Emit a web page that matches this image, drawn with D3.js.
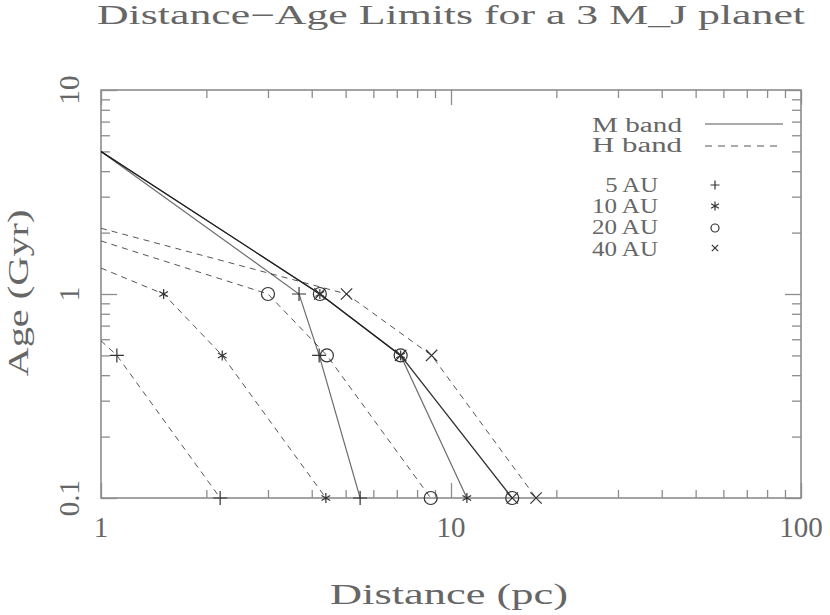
<!DOCTYPE html>
<html><head><meta charset="utf-8">
<script src="https://cdn.jsdelivr.net/npm/d3@7"></script>
<style>
html,body{margin:0;padding:0;background:#fff;}
svg text{font-family:"Liberation Serif","DejaVu Serif",serif;fill:#666;}
</style></head>
<body><svg id="c" width="830" height="615"></svg>
<script>
// ---- data ----
const markerAges = [1, 0.5, 0.1];          // Gyr, ages where symbols are plotted
const startDistance = 1;                     // pc, left edge where curves enter
const separations = ["5 AU", "10 AU", "20 AU", "40 AU"];
const mStartAge = [5, 5, 5, 5];              // M band age at 1 pc
const hStartAge = [0.59, 1.34, 1.82, 2.1];   // H band age at 1 pc
const mBand5AU  = [3.68, 4.2, 5.5];
const mBand10AU = [4.22, 7.18, 11.1];
const mBand20AU = [4.22, 7.18, 14.96];
const mBand40AU = [4.22, 7.18, 14.96];
const hBand5AU  = [null, 1.11, 2.19];
const hBand10AU = [1.51, 2.22, 4.39];
const hBand20AU = [3.0, 4.42, 8.75];
const hBand40AU = [5.03, 8.8, 17.5];
const xTickLabels = ["1", "10", "100"];
const yTickLabels = ["0.1", "1", "10"];

const svg = d3.select("#c");
const x = d3.scaleLog().domain([1, 100]).range([101, 801]);
const y = d3.scaleLog().domain([0.1, 10]).range([498, 90]);
const axisColor = "#8c8c8c";

svg.append("defs").append("clipPath").attr("id","clip")
  .append("rect").attr("x",101).attr("y",90).attr("width",700).attr("height",408);

// ---- axes ----
function isMajor(v){ const l = Math.log10(v); return Math.abs(l - Math.round(l)) < 1e-9; }
function styleAxis(g){
  g.select(".domain").remove();
  g.selectAll(".tick text").remove();
  g.selectAll(".tick line").attr("stroke", axisColor).attr("stroke-width",1.3);
}
const xt = x.ticks();
const yt = y.ticks();
const gB = svg.append("g").attr("transform","translate(0,498)")
  .call(d3.axisBottom(x).tickValues(xt).tickSizeInner(-8).tickSizeOuter(0).tickFormat(""));
styleAxis(gB);
gB.selectAll(".tick line").attr("y2", d => isMajor(d) ? -15 : -8);
const gT = svg.append("g").attr("transform","translate(0,90)")
  .call(d3.axisTop(x).tickValues(xt).tickSizeInner(-8).tickSizeOuter(0).tickFormat(""));
styleAxis(gT);
gT.selectAll(".tick line").attr("y2", d => isMajor(d) ? 15 : 8);
const gL = svg.append("g").attr("transform","translate(101,0)")
  .call(d3.axisLeft(y).tickValues(yt).tickSizeInner(-8).tickSizeOuter(0).tickFormat(""));
styleAxis(gL);
gL.selectAll(".tick line").attr("x2", d => isMajor(d) ? 16 : 9);
const gR = svg.append("g").attr("transform","translate(801,0)")
  .call(d3.axisRight(y).tickValues(yt).tickSizeInner(-8).tickSizeOuter(0).tickFormat(""));
styleAxis(gR);
gR.selectAll(".tick line").attr("x2", d => isMajor(d) ? -16 : -9);

svg.append("rect").attr("x",101).attr("y",90).attr("width",700).attr("height",408)
  .attr("fill","none").attr("stroke",axisColor).attr("stroke-width",1.6);

// tick labels
svg.selectAll("text.xl").data(xTickLabels).enter().append("text")
  .attr("x", d => x(+d)).attr("y", 537).attr("text-anchor","middle")
  .attr("font-size", 29).text(d => d);
svg.selectAll("text.yl").data(yTickLabels).enter().append("text")
  .attr("transform", d => `translate(79,${y(+d)}) rotate(-90)`).attr("text-anchor","middle")
  .attr("font-size", 29).text(d => d);

// titles
svg.append("text").attr("x",451).attr("y",24).attr("text-anchor","middle")
  .attr("font-size",27).attr("textLength",708).attr("lengthAdjust","spacingAndGlyphs")
  .text("Distance\u2212Age Limits for a 3 M_J planet");
svg.append("text").attr("x",449).attr("y",604).attr("text-anchor","middle")
  .attr("font-size",29).attr("textLength",238).attr("lengthAdjust","spacingAndGlyphs")
  .text("Distance (pc)");
svg.append("text").attr("transform","translate(28,293) rotate(-90)").attr("text-anchor","middle")
  .attr("font-size",29).attr("textLength",167).attr("lengthAdjust","spacingAndGlyphs")
  .text("Age (Gyr)");

// ---- series ----
const mSeries = [mBand5AU, mBand10AU, mBand20AU, mBand40AU];
const hSeries = [hBand5AU, hBand10AU, hBand20AU, hBand40AU];
function pts(start, arr){
  const p = [[startDistance, start]];
  arr.forEach((d,i) => { if (d != null) p.push([d, markerAges[i]]); });
  return p;
}
const line = d3.line().x(d => x(d[0])).y(d => y(d[1]));
const plot = svg.append("g").attr("clip-path","url(#clip)");

hSeries.forEach((s,i) => {
  plot.append("path").attr("d", line(pts(hStartAge[i], s)))
    .attr("fill","none").attr("stroke","#555").attr("stroke-width",1)
    .attr("stroke-dasharray","6,5");
});
mSeries.forEach((s,i) => {
  plot.append("path").attr("d", line(pts(mStartAge[i], s)))
    .attr("fill","none").attr("stroke","#111").attr("stroke-opacity",0.62).attr("stroke-width",1.2);
});

// markers
function markerPath(k, s){
  const a = s*0.7071;
  if (k === 0) return `M${-s},0H${s}M0,${-s}V${s}`;
  if (k === 1) { const b = s*0.866, c = s*0.5;
    return `M0,${-s}V${s}M${-b},${-c}L${b},${c}M${-b},${c}L${b},${-c}`; }
  if (k === 3) return `M${-a},${-a}L${a},${a}M${-a},${a}L${a},${-a}`;
  return null;
}
function drawMarker(g, k, cx, cy, s){
  if (k === 2) {
    g.append("circle").attr("cx",cx).attr("cy",cy).attr("r",s)
      .attr("fill","none").attr("stroke","#333").attr("stroke-width",1.2);
  } else {
    g.append("path").attr("transform",`translate(${cx},${cy})`).attr("d", markerPath(k,s))
      .attr("fill","none").attr("stroke","#333").attr("stroke-width",1.2);
  }
}
const markerSize = [7, 5, 6.5, 8];
[mSeries, hSeries].forEach(group => {
  group.forEach((s,k) => {
    s.forEach((d,i) => { if (d != null) drawMarker(svg, k, x(d), y(markerAges[i]), markerSize[k]); });
  });
});

// ---- legend ----
const lg = svg.append("g");
lg.append("text").attr("x",592).attr("y",132).attr("font-size",20)
  .attr("textLength",90).attr("lengthAdjust","spacingAndGlyphs").text("M band");
lg.append("text").attr("x",592).attr("y",152).attr("font-size",20)
  .attr("textLength",90).attr("lengthAdjust","spacingAndGlyphs").text("H band");
lg.append("line").attr("x1",705).attr("x2",783).attr("y1",124).attr("y2",124)
  .attr("stroke","#555").attr("stroke-width",1);
lg.append("line").attr("x1",705).attr("x2",783).attr("y1",146).attr("y2",146)
  .attr("stroke","#555").attr("stroke-width",1).attr("stroke-dasharray","7,6");
const legY = [192, 213, 234, 256];
const legSymY = [185, 206, 228, 248];
separations.forEach((t,i) => {
  lg.append("text").attr("x",658).attr("y",legY[i]).attr("text-anchor","end").attr("font-size",20)
    .attr("textLength", t.length*13.2).attr("lengthAdjust","spacingAndGlyphs").text(t);
  drawMarker(lg, i, 715, legSymY[i], i === 2 ? 4 : 4.5);
});
</script></body></html>
